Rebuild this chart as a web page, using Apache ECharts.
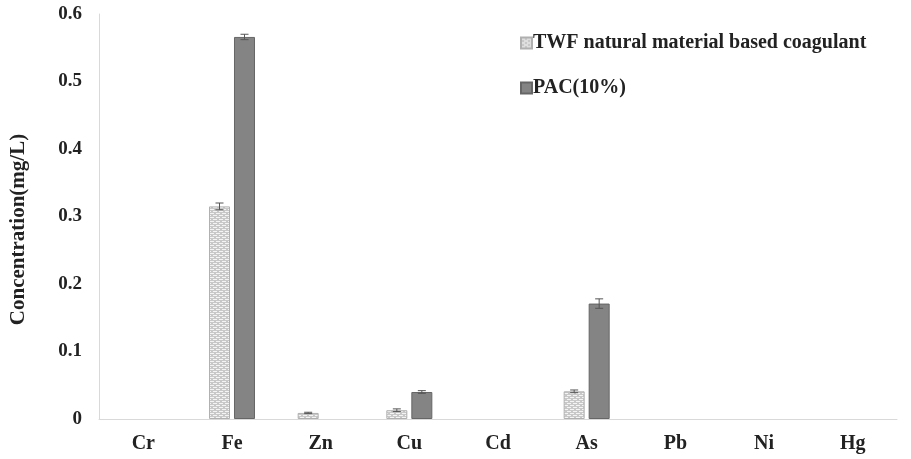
<!DOCTYPE html>
<html>
<head>
<meta charset="utf-8">
<script src="https://cdn.jsdelivr.net/npm/echarts@6/dist/echarts.min.js"></script>
<style>
  html, body { margin: 0; padding: 0; background: #fff; }
  #chart { width: 911px; height: 459px; }
</style>
</head>
<body>
<div id="chart"></div>
<script>
'use strict';
// 数据
const categories = ['Cr', 'Fe', 'Zn', 'Cu', 'Cd', 'As', 'Pb', 'Ni', 'Hg'];
const twfValues = [0, 0.315, 0.009, 0.013, 0, 0.041, 0, 0, 0];
const twfErrors = [0, 0.005, 0.001, 0.002, 0, 0.002, 0, 0, 0];
const pacValues = [0, 0.566, 0, 0.040, 0, 0.171, 0, 0, 0];
const pacErrors = [0, 0.004, 0, 0.002, 0, 0.007, 0, 0, 0];
const yTicks = [0, 0.1, 0.2, 0.3, 0.4, 0.5, 0.6];

const fontFamily = '"Liberation Serif", "Times New Roman", serif';
const barWidth = 21;
const offset = 12.5;

// 纹理填充
function makePattern() {
    let c = document.createElement('canvas');
    c.width = 6;
    c.height = 4;
    let ctx = c.getContext('2d');
    ctx.fillStyle = '#c8c8c8';
    ctx.fillRect(0, 0, 6, 4);
    ctx.fillStyle = '#f4f4f4';
    ctx.fillRect(0, 1, 4, 1);
    ctx.fillRect(3, 3, 3, 1);
    ctx.fillRect(0, 3, 1, 1);
    return c;
}

// 0 不画柱子
function barData(values) {
    return values.map(function(v) { return v === 0 ? '-' : v; });
}

function errorSeries(values, errors, shift) {
    return {
        type: 'custom',
        silent: true,
        z: 5,
        data: values.map(function(v, i) { return [i, v, errors[i]]; }),
        renderItem: function(params, api) {
            let err = api.value(2);
            if (!err) return null;
            let v = api.value(1);
            let top = api.coord([api.value(0), v + err]);
            let bot = api.coord([api.value(0), v - err]);
            let x = top[0] + shift;
            let style = { stroke: '#555', lineWidth: 1 };
            return {
                type: 'group',
                children: [
                    { type: 'line', shape: { x1: x, y1: top[1], x2: x, y2: bot[1] }, style: style },
                    { type: 'line', shape: { x1: x - 4, y1: top[1], x2: x + 4, y2: top[1] }, style: style },
                    { type: 'line', shape: { x1: x - 4, y1: bot[1], x2: x + 4, y2: bot[1] }, style: style }
                ]
            };
        }
    };
}

let myChart = echarts.init(document.getElementById('chart'));
let pattern = makePattern();

let option = {
    backgroundColor: '#fff',
    animation: false,
    grid: { left: 95, right: 14, top: 14, bottom: 40 },
    legend: {
        orient: 'vertical',
        left: 515,
        top: 28,
        icon: 'rect',
        itemWidth: 11,
        itemHeight: 11,
        itemGap: 25,
        data: ['TWF natural material based coagulant', 'PAC(10%)'],
        textStyle: { fontFamily: fontFamily, fontWeight: 'bold', fontSize: 20, color: '#222', padding: [0, 0, 0, -4] }
    },
    xAxis: {
        type: 'category',
        data: categories,
        axisLine: { lineStyle: { color: '#d9d9d9' } },
        axisTick: { show: false },
        axisLabel: { margin: 15, fontFamily: fontFamily, fontWeight: 'bold', fontSize: 20, color: '#222' }
    },
    yAxis: {
        type: 'value',
        min: 0,
        max: 0.6,
        interval: 0.1,
        name: 'Concentration(mg/L)',
        nameLocation: 'middle',
        nameGap: 70,
        nameTextStyle: { fontFamily: fontFamily, fontWeight: 'bold', fontSize: 21, color: '#222', padding: [0, 26, 0, 0] },
        axisLine: { show: true, lineStyle: { color: '#d9d9d9' } },
        splitLine: { show: false },
        axisLabel: {
            margin: 17,
            fontFamily: fontFamily,
            fontWeight: 'bold',
            fontSize: 19,
            color: '#222',
            formatter: function(v) {
                let t = yTicks.find(function(k) { return Math.abs(k - v) < 1e-9; });
                return t === 0 ? '0' : t.toFixed(1);
            }
        }
    },
    series: [{
        name: 'TWF natural material based coagulant',
        type: 'bar',
        barWidth: barWidth,
        barGap: '19%',
        data: barData(twfValues),
        itemStyle: { color: { image: pattern, repeat: 'repeat' }, borderColor: '#b0b0b0', borderWidth: 1 }
    }, {
        name: 'PAC(10%)',
        type: 'bar',
        barWidth: barWidth,
        data: barData(pacValues),
        itemStyle: { color: '#848484', borderColor: '#666', borderWidth: 1 }
    },
    errorSeries(twfValues, twfErrors, -offset),
    errorSeries(pacValues, pacErrors, offset)
    ]
};

myChart.setOption(option);
</script>
</body>
</html>
